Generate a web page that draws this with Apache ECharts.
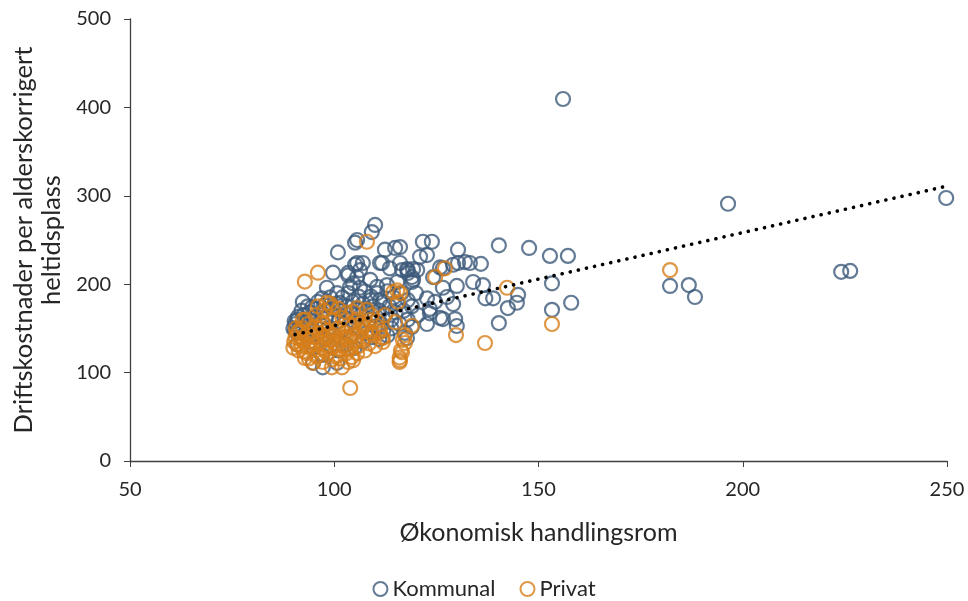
<!DOCTYPE html>
<html><head><meta charset="utf-8">
<script src="https://cdn.jsdelivr.net/npm/echarts@6/dist/echarts.min.js"></script>
<style>html,body{margin:0;padding:0;background:#fff}#c{width:968px;height:601px}</style>
</head><body><div id="c"></div>
<script>
const xTicks = [50, 100, 150, 200, 250];
const yTicks = [0, 100, 200, 300, 400, 500];
const kommunal = [
[156.0,409.5],[196.4,291],[249.8,297.5],[224.1,214],[226.3,215],[182.2,198],[186.8,199],[188.3,185.5],
[152.8,232],[157.2,232],[153.3,201],[158.0,179],[153.3,171],[147.7,241],[140.3,244],[142.5,173],
[144.7,179],[145.0,188],[140.3,156],[137.0,184],[138.9,184],[136.4,199],[134.0,202.5],[135.9,223],
[133.2,224],[132.0,225],[130.3,224],[130.3,239],[129.1,222],[126.6,218],[124.2,208],[123.9,248],
[121.7,248],[121.0,231],[122.7,233],[119.3,217],[117.8,217],[119.0,208],[119.0,202.5],[116.1,242],
[116.1,224],[130.0,198],[126.6,196],[125.9,219],[122.7,184],[124.7,180],[127.6,185.5],[129.1,177.6],
[123.4,172],[123.4,167],[126.6,160.6],[129.6,160.6],[130.0,152.7],[122.7,155],[125.9,161.8],
[110.0,267],[109.2,259],[105.6,250],[112.4,239],[114.9,241],[111.7,224],[118.0,216],[120.3,216],
[105.6,224],[107.0,224],[105.6,208],[104.6,201],[100.9,236],[105.1,247],[99.7,213],[103.4,210],[105.1,222],
[111.2,224],[106.3,216],[108.8,205],[103.4,212.7],[113.6,218],[116.6,216],[118.0,212.7],[119.3,205],
[92.3,180],[94.6,174],[91.1,163],[90.4,148],[98.2,196],[100.7,190],[103.9,197],[106.3,196],[110.5,197],
[112.9,199],[115.4,202.5],[118.0,182],[108.8,182],[111.2,182],[101.4,179],[97.0,184],[117.3,145],
[117.8,139],[119.0,151.6],[94.8,111],[97.2,106],[100.7,111],
[90.5,155],[91.0,160],[91.5,150],[92.0,170],[92.5,165],[93.0,158],[93.5,175],[94.0,168],[94.5,150],
[95.0,162],[95.5,172],[96.0,180],[96.5,155],[97.0,168],[97.5,176],[98.0,162],[98.5,150],[99.0,185],
[99.5,172],[100.0,165],[100.5,178],[101.0,158],[101.5,170],[102.0,185],[102.5,162],[103.0,175],
[103.5,190],[104.0,168],[104.5,180],[105.0,158],[105.5,172],[106.0,186],[106.5,165],[107.0,178],
[107.5,192],[108.0,170],[108.5,160],[109.0,186],[109.5,175],[110.0,165],[110.5,190],[111.0,170],
[111.5,155],[112.0,180],[112.5,166],[113.0,192],[113.5,175],[114.0,160],[114.5,185],[115.0,168],
[115.5,178],[116.0,155],[116.5,190],[117.0,170],[118.0,160],[119.0,175],[120.0,190],[120.5,165],
[92,140],[94,135],[96,145],[98,138],[100,142],[102,148],[104,140],[106,150],[108,145],[110,152],
[112,148],[114,150],[95,128],[97,120],[99,130],[101,125],[103,132],[105,128],[107,135],[109,140],
[111,138],[113,142],[91,132],[93,145],[90,150],[90.3,158],[90.8,145]
];
const privat = [
[108.0,248],[92.8,203],[96.0,213],[127.1,218],[124.7,208],[142.3,196],[153.3,155],[182.2,216],
[129.8,142.5],[136.9,133.5],[119.0,153],[117.3,142.5],[117.3,133.5],[116.6,123],[116.1,190],
[116.3,125],[116.0,117],[116.0,112],[103.9,82.6],
[114.4,191],[115.6,180],[112.4,165],[114.9,157],[116.8,137],[116.1,114],[104.6,168.6],[111.7,140],
[111.9,134.6],[107.0,151.6],[108.8,144.8],[105.6,122],[104.6,114],
[92.8,116.5],[94.8,111],[97.2,112],[99.4,106],[101.9,106],[103.4,112],[104.3,117.6],
[115.4,193],[98.2,179],[99.4,174],[105.6,173],[108.0,171],[108.8,159.5],[111.2,148],[111.9,139],
[104.3,151.6],[97.2,157],[100.2,146],[92.3,159.5],
[90.0,128],[90.2,135],[90.5,140],[90.8,132],[91.0,145],[91.3,125],[91.6,138],[92.0,130],[92.3,150],
[92.6,135],[93.0,142],[93.3,122],[93.6,130],[94.0,147],[94.3,136],[94.6,126],[95.0,140],[95.3,152],
[95.6,132],[96.0,120],[96.3,145],[96.6,135],[97.0,128],[97.3,155],[97.6,140],[98.0,132],[98.3,122],
[98.6,148],[99.0,136],[99.3,128],[99.6,160],[100.0,142],[100.3,118],[100.6,133],[101.0,150],[101.3,126],
[101.6,140],[102.0,162],[102.3,131],[102.6,145],[103.0,122],[103.3,137],[103.6,155],[104.0,128],
[104.5,143],[105.0,135],[105.5,160],[106.0,130],[106.5,147],[107.0,138],[107.5,125],[108.0,155],
[108.5,133],[109.0,165],[109.5,142],[110.0,130],[110.5,158],[111.0,145],[95.5,165],[97.5,170],
[99.0,178],[101.0,172],[103.0,168],[93.0,160],[96.0,175],
[91.5,148],[93.5,155],[94.8,142],[96.8,150],[98.8,142],[100.8,137],[102.8,140],[99.5,115],
[97.8,125],[95.8,118],[93.8,116],[92.5,124],[101.5,116],[103.5,126],[90.6,150],[105.5,142],
[106.8,155],[107.8,148]
];
const trend = [[90.4,143],[250,311]];

const FONT = 'Lato';
const TXT = '#262626';
const chart = echarts.init(document.getElementById('c'), null, {renderer:'canvas'});
const blue = '#3d5a7b', orange = '#d67e1a';
chart.setOption({
  animation:false,
  textStyle:{fontFamily:FONT},
  grid:{left:130,right:21,top:19,bottom:140,containLabel:false,outerBoundsMode:'none'},
  legend:{
    data:[{name:'Kommunal',icon:'circle'},{name:'Privat',icon:'circle'}],
    top:573,left:'center',itemWidth:14,itemHeight:14,itemGap:24,
    textStyle:{fontFamily:FONT,fontSize:22,color:TXT}
  },
  xAxis:{
    type:'value',min:xTicks[0],max:xTicks[xTicks.length-1],interval:50,
    name:'Økonomisk handlingsrom',nameLocation:'middle',nameGap:59,
    nameTextStyle:{fontFamily:FONT,fontSize:25,color:TXT},
    axisLine:{lineStyle:{color:'#404040',width:1.3}},
    axisTick:{show:true,length:6,inside:false,lineStyle:{color:'#404040'}},
    axisLabel:{fontSize:20,color:TXT,margin:19,fontFamily:FONT},
    splitLine:{show:false}
  },
  yAxis:{
    type:'value',min:yTicks[0],max:yTicks[yTicks.length-1],interval:100,
    name:'Driftskostnader per alderskorrigert\nheltidsplass',nameLocation:'middle',nameGap:63,
    nameTextStyle:{fontFamily:FONT,fontSize:25.5,color:TXT,lineHeight:28},
    axisLine:{show:true,lineStyle:{color:'#404040',width:1.3}},
    axisTick:{show:true,length:6,lineStyle:{color:'#404040'}},
    axisLabel:{fontSize:20,color:TXT,margin:19,fontFamily:FONT},
    splitLine:{show:false}
  },
  series:[
    {name:'Kommunal',type:'scatter',data:kommunal,symbol:'circle',symbolSize:14,
     itemStyle:{color:'rgba(255,255,255,0)',borderColor:blue,borderWidth:2.2}},
    {name:'Privat',type:'scatter',data:privat,symbol:'circle',symbolSize:14,
     itemStyle:{color:'rgba(255,255,255,0)',borderColor:orange,borderWidth:2.2}},
    {name:'Trend',type:'line',data:trend,symbol:'none',z:5,silent:true,
     lineStyle:{color:'#000',width:3.6,type:[0.1,8.2],cap:'round'}}
  ]
});
</script></body></html>
